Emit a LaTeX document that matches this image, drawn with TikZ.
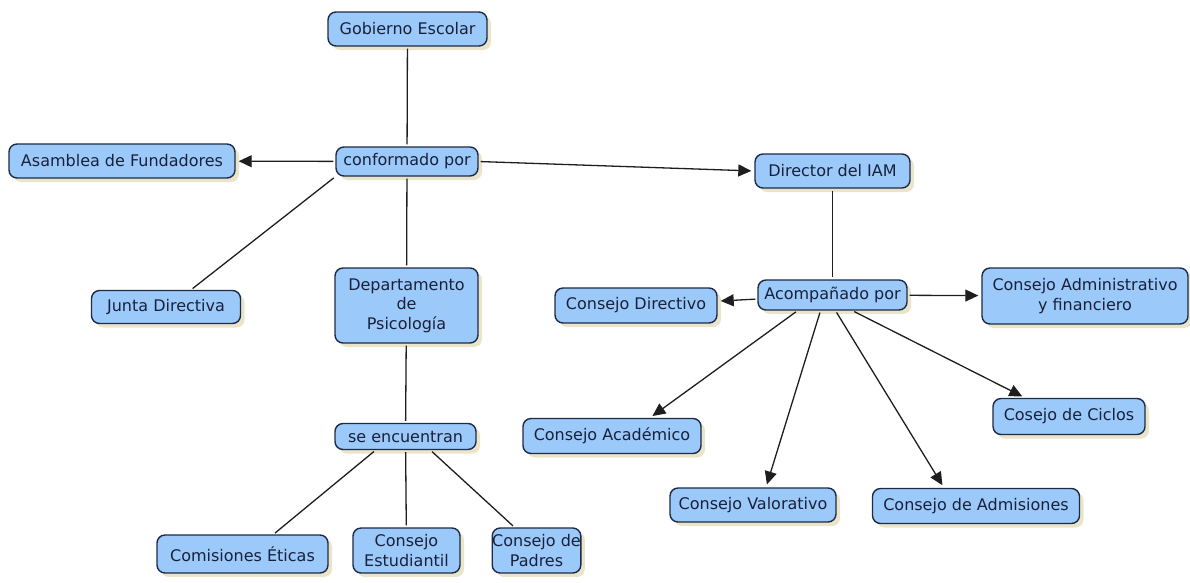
\documentclass[tikz,border=0pt]{standalone}
\usepackage{fontspec}
\setmainfont{DejaVu Sans}
\usetikzlibrary{arrows.meta,shadows}
\definecolor{boxfill}{RGB}{155,201,250}
\definecolor{boxline}{RGB}{30,42,70}
\definecolor{boxtext}{RGB}{25,33,58}
\definecolor{shade}{RGB}{232,226,196}
\definecolor{wire}{RGB}{30,30,30}
\tikzset{
  concept/.style={draw=boxline, line width=1.4pt, fill=boxfill, rounded corners=8pt,
    text=boxtext, align=center, inner sep=0pt,
    font=\fontsize{16pt}{19.5pt}\selectfont,
    drop shadow={shadow xshift=4pt, shadow yshift=-4pt, fill=shade, opacity=0.9}},
  link/.style={draw=wire, line width=1.3pt, shorten <=2pt, shorten >=2pt},
  arrowlink/.style={link, -{Triangle[length=13pt,width=12pt]}, shorten >=3pt},
}
\begin{document}
\begin{tikzpicture}[x=1pt,y=-1pt]
\useasboundingbox (0,0) rectangle (1190,582);

% upper branch
\node[concept, minimum width=159pt, minimum height=34pt] (gob) at (407.5,29) {Gobierno Escolar};
\node[concept, minimum width=142pt, minimum height=29pt] (cf) at (407,161.5) {conformado por};
\node[concept, minimum width=226pt, minimum height=34pt] (asa) at (122,161) {Asamblea de Fundadores};
\node[concept, minimum width=155pt, minimum height=34pt] (dir) at (832.5,171) {Director del IAM};
\node[concept, minimum width=149pt, minimum height=33pt] (jd) at (166,307) {Junta Directiva};
\node[concept, minimum width=143pt, minimum height=75pt] (dep) at (406.5,305.5) {Departamento\\de\\Psicología};

% director's council
\node[concept, minimum width=149pt, minimum height=30pt] (ac) at (832.5,295) {Acompañado por};
\node[concept, minimum width=162pt, minimum height=35pt] (cd) at (636,305.5) {Consejo Directivo};
\node[concept, minimum width=206pt, minimum height=56pt] (cadm) at (1085,296) {Consejo Administrativo\\y financiero};
\node[concept, minimum width=178pt, minimum height=35pt] (caca) at (612,436) {Consejo Académico};
\node[concept, minimum width=152pt, minimum height=36pt] (cic) at (1069,416.5) {Cosejo de Ciclos};
\node[concept, minimum width=166pt, minimum height=34pt] (cval) at (753,505) {Consejo Valorativo};
\node[concept, minimum width=207pt, minimum height=35pt] (cadmis) at (976,506) {Consejo de Admisiones};

% psychology department
\node[concept, minimum width=141pt, minimum height=26pt] (se) at (405.5,436.5) {se encuentran};
\node[concept, minimum width=171pt, minimum height=38pt] (com) at (242.5,554) {Comisiones Éticas};
\node[concept, minimum width=107pt, minimum height=45pt] (est) at (406.5,550.5) {Consejo\\Estudiantil};
\node[concept, minimum width=87pt, minimum height=45pt] (pad) at (536.5,550.5) {Consejo de\\Padres};

% connectors
\draw[link] (gob) -- (cf);
\draw[arrowlink] (cf) -- (asa);
\draw[arrowlink] (cf.east) -- (dir.west);
\draw[link] (cf.south west) -- ([xshift=25pt]jd.north);
\draw[link] (cf) -- (dep);
\draw[link] (dep) -- (se);
\draw[link] ([xshift=-30pt]se.south) -- ([xshift=31pt]com.north);
\draw[link] (se) -- (est);
\draw[link] ([xshift=25pt]se.south) -- ([xshift=-22pt]pad.north);

\draw[link] (dir) -- (ac);
\draw[arrowlink] (ac) -- (cd);
\draw[arrowlink] (ac) -- (cadm);
\draw[arrowlink] ([xshift=-35pt]ac.south) -- ([xshift=38pt]caca.north);
\draw[arrowlink] ([xshift=-12pt]ac.south) -- ([xshift=13pt]cval.north);
\draw[arrowlink] ([xshift=3pt]ac.south) -- ([xshift=-32pt]cadmis.north);
\draw[arrowlink] ([xshift=20pt]ac.south) -- ([xshift=-44pt]cic.north);
\end{tikzpicture}
\end{document}
